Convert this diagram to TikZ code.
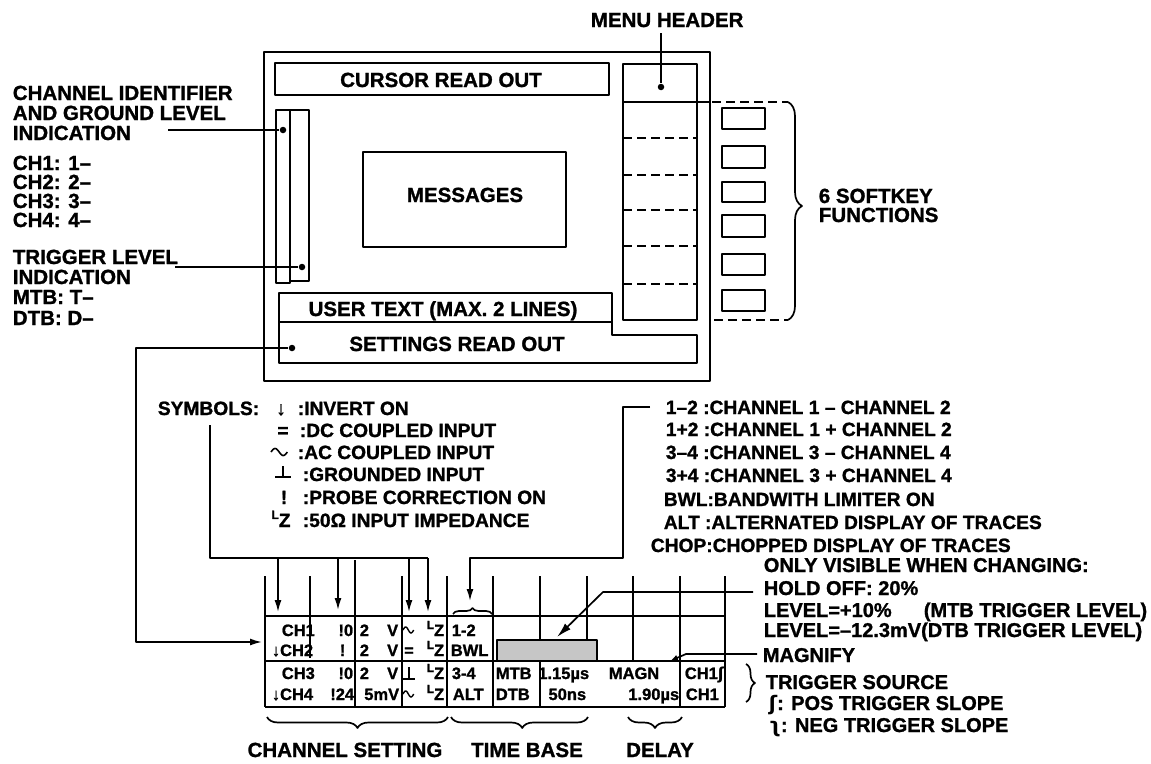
\documentclass[tikz,border=0pt]{standalone}
\usepackage{fontspec}
\setmainfont{Liberation Sans}[FakeBold=1.2]
\newfontfamily\djv{DejaVu Sans}
\usetikzlibrary{arrows.meta,decorations.pathreplacing}
\newcommand\lzsym{\raisebox{0.42em}{\fontsize{12}{12}\selectfont L}Z}
\begin{document}
\begin{tikzpicture}[x=1pt,y=-1pt,
  line width=1.7pt, line join=round,
  txt/.style={inner sep=0pt, anchor=base west, font=\fontsize{20.5}{20.5}\selectfont\bfseries},
  ann/.style={inner sep=0pt, anchor=base west, font=\fontsize{20}{20}\selectfont\bfseries},
  ctr/.style={inner sep=0pt, anchor=base, font=\fontsize{20.5}{20.5}\selectfont\bfseries},
  lg/.style={inner sep=0pt, anchor=base west, font=\fontsize{19.2}{19.2}\selectfont\bfseries},
  lgc/.style={lg, anchor=base},
  tb/.style={inner sep=0pt, anchor=base west, font=\fontsize{16.5}{16.5}\selectfont\bfseries},
  tbe/.style={tb, anchor=base east},
  tbc/.style={tb, anchor=base},
  arr/.style={-{Latex[length=12pt,width=7pt]}},
  blob/.style={circle, fill, inner sep=0pt, minimum size=6.5pt},
  dsh/.style={dash pattern=on 9pt off 5pt},
]
\fill[white] (0,0) rectangle (1151,763);
\useasboundingbox (0,0) rectangle (1151,763);

% ---------- left labels
\node[txt] (ci1) at (12,100) {CHANNEL IDENTIFIER};
\node[txt] (ci2) at (12,120) {AND GROUND LEVEL};
\node[txt] (ci3) at (12,140) {INDICATION};
\node[txt] (ch1) at (12,170) {CH1: 1–};
\node[txt] (ch2) at (12,189) {CH2: 2–};
\node[txt] (ch3) at (12,208) {CH3: 3–};
\node[txt] (ch4) at (12,227) {CH4: 4–};
\node[txt] (tl1) at (12,264) {TRIGGER LEVEL};
\node[txt] (tl2) at (12,284) {INDICATION};
\node[txt] (mtb) at (12,304) {MTB: T–};
\node[txt] (dtb) at (12,325) {DTB: D–};

% ---------- screen
\draw[line width=2.2pt] (264,52) rectangle (710,381);
\draw (275,63) rectangle (609,95);
\node[ctr] (cursor) at (441,87) {CURSOR READ OUT};
\draw (276,110) rectangle (290,283);
\draw (290,110) rectangle (309,281);
\node[blob] (cidot) at (283,130) {};
\node[blob] (tldot) at (302,267) {};
\coordinate (cistart) at (168,130);
\coordinate (tlstart) at (175,267);
\draw (cistart) -- (cidot);
\draw (tlstart) -- (tldot);

\draw (363,152) rectangle (566,247);
\node[ctr] (msg) at (465,202) {MESSAGES};

\draw (279,293) rectangle (612,322);
\node[ctr] (user) at (443,316) {USER TEXT (MAX. 2 LINES)};
\draw (279,322) -- (279,363) -- (697,363) -- (697,335) -- (612,335) -- (612,322);
\node[ctr] (settings) at (457,351) {SETTINGS READ OUT};
\node[blob] (sdot) at (292,348) {};

% ---------- menu column
\draw (623,64) rectangle (697,320);
\draw (623,102) -- (710,102);
\foreach \yy in {138,175,210,246,284} \draw[dsh] (623,\yy) -- (697,\yy);
\draw[dsh] (712,102) -- (788,102);
\draw[dsh] (714,320) -- (788,320);
\node[blob] (mhdot) at (661,87) {};
\node[txt] (mh) at (590,27) {MENU HEADER};
\coordinate (mhs) at (661,33);
\draw (mhs) -- (mhdot);

\foreach \ya/\yb in {108/129,146/168,182/202,215/237,254/275,290/311}
  \draw (722,\ya) rectangle (765,\yb);
\draw[decorate,decoration={brace,amplitude=14pt,aspect=0.477}] (788,102) -- (788,320);
\node[txt] (sk1) at (818,203) {6 SOFTKEY};
\node[txt] (sk2) at (818,222) {FUNCTIONS};

% ---------- symbols legend
\node[lg] (symlbl) at (157,415) {SYMBOLS:};
\node[lgc] (sy1) at (281,415) {↓};
\node[lgc] (sy2) at (283,437) {=};
\draw[line width=1.6pt, shift={(271,452)}] plot[domain=0:6.2832, samples=30] ({\x*2.6}, {-3.5*sin(\x r)});
\draw (283,466) -- (283,476);
\draw[line width=2.4pt] (275,477) -- (291,477);
\node[lgc] (sy5) at (284,504) {!};
\node[lgc] (sy6) at (281,527) {\lzsym};
\node[lg] (sd1) at (297,415) {:INVERT ON};
\node[lg] (sd2) at (299,437) {:DC COUPLED INPUT};
\node[lg] (sd3) at (297,459) {:AC COUPLED INPUT};
\node[lg] (sd4) at (302,481) {:GROUNDED INPUT};
\node[lg] (sd5) at (302,504) {:PROBE CORRECTION ON};
\node[lg] (sd6) at (302,527) {:50Ω INPUT IMPEDANCE};

\coordinate (symtop) at (210,425);
\coordinate (symc) at (210,558);
\coordinate (symr) at (428,558);
\draw (symtop) -- (symc) -- (symr);
\coordinate (a1) at (278,558); \coordinate (a1e) at (278,612);
\coordinate (a2) at (338,558); \coordinate (a2e) at (338,610);
\coordinate (a3) at (409,558); \coordinate (a3e) at (409,612);
\coordinate (a4) at (428,558); \coordinate (a4e) at (428,612);
\draw[arr] (a1) -- (a1e);
\draw[arr] (a2) -- (a2e);
\draw[arr] (a3) -- (a3e);
\draw[arr] (a4) -- (a4e);

% settings connector
\coordinate (sc1) at (136,348);
\coordinate (sc2) at (136,642);
\coordinate (sc3) at (262,642);
\draw[arr] (sdot) -- (sc1) -- (sc2) -- (sc3);

% ---------- math / mode legend
\node[lg] (l1) at (665,414) {1–2 :CHANNEL 1 – CHANNEL 2};
\node[lg] (l2) at (665,436) {1+2 :CHANNEL 1 + CHANNEL 2};
\node[lg] (l3) at (665,459) {3–4 :CHANNEL 3 – CHANNEL 4};
\node[lg] (l4) at (665,482) {3+4 :CHANNEL 3 + CHANNEL 4};
\node[lg] (l5) at (663,506) {BWL:BANDWITH LIMITER ON};
\node[lg] (l6) at (663,529) {ALT :ALTERNATED DISPLAY OF TRACES};
\node[lg] (l7) at (650,552) {CHOP:CHOPPED DISPLAY OF TRACES};
\coordinate (m0) at (650,407);
\coordinate (m1) at (623,407);
\coordinate (m2) at (623,558);
\coordinate (m3) at (470,558);
\coordinate (m4) at (470,601);
\draw[arr] (m0) -- (m1) -- (m2) -- (m3) -- (m4);
\draw[decorate,decoration={brace,amplitude=6pt}] (453,614) -- (492,614);

% ---------- right annotations
\node[ann] (only) at (763,572) {ONLY VISIBLE WHEN CHANGING:};
\node[ann] (hold) at (763,595) {HOLD OFF: 20\%};
\node[ann] (lev1) at (763,617) {LEVEL=+10\%};
\node[ann] (mtbl) at (923,617) {(MTB TRIGGER LEVEL)};
\node[ann] (lev2) at (763,637) {LEVEL=–12.3mV(DTB TRIGGER LEVEL)};
\node[ann] (magn) at (762,662) {MAGNIFY};
\node[ann] (trs) at (765,689) {TRIGGER SOURCE};
\node[ann] (pos) at (768,710) {{\djv ʃ}: POS TRIGGER SLOPE};
\node[ann] (neg) at (768,732) {{\djv ʅ}: NEG TRIGGER SLOPE};

\coordinate (ho1) at (753,592);
\coordinate (ho2) at (603,592);
\coordinate (ho3) at (557,637);
\draw[-{Latex[length=15pt,width=8pt]}] (ho1) -- (ho2) -- (ho3);
\coordinate (mg1) at (757,654);
\coordinate (mg2) at (686,654);
\coordinate (mg3) at (670,661);
\draw[-{Latex[length=8pt,width=6pt]}] (mg1) -- (mg2) -- (mg3);
\draw[decorate,decoration={brace,amplitude=9pt}] (746,664) -- (746,702);

% ---------- settings table
\draw (265,616) -- (725,616);
\draw (265,661) -- (725,661);
\draw (265,707) -- (725,707);
\draw (265,576) -- (265,707);
\draw (310,576) -- (310,658);
\draw (355,560) -- (355,707);
\draw (402,576) -- (402,707);
\draw (447,576) -- (447,707);
\draw (493,576) -- (493,707);
\draw (540,576) -- (540,640);
\draw (540,661) -- (540,707);
\draw (587,576) -- (587,640);
\draw (633,576) -- (633,661);
\draw (680,576) -- (680,707);
\draw (725,576) -- (725,707);
\draw[fill=gray!45] (497,640) rectangle (597,661);

\node[tb] (t11) at (281,636) {CH1};
\node[tb] (t21) at (271,656) {↓CH2};
\node[tb] (t31) at (281,679) {CH3};
\node[tb] (t41) at (271,700) {↓CH4};
\node[tbe] (t12) at (354,636) {!0};
\node[tb] (t22) at (339,656) {!};
\node[tbe] (t32) at (354,679) {!0};
\node[tbe] (t42) at (355,700) {!24};
\node[tb] (t13) at (359,636) {2};
\node[tbe] (t13v) at (399,636) {V};
\node[tb] (t23) at (359,656) {2};
\node[tbe] (t23v) at (399,656) {V};
\node[tb] (t33) at (359,679) {2};
\node[tbe] (t33v) at (399,679) {V};
\node[tbe] (t43) at (400,700) {5mV};
\draw[line width=1.4pt, shift={(403,630)}] plot[domain=0:6.2832, samples=30] ({\x*1.7}, {-3*sin(\x r)});
\node[tbc] (t24) at (409,656) {=};
\draw (409,667) -- (409,679);
\draw (403,679) -- (415,679);
\draw[line width=1.4pt, shift={(403,694)}] plot[domain=0:6.2832, samples=30] ({\x*1.7}, {-3*sin(\x r)});
\node[tbe] (t14) at (445,636) {\lzsym};
\node[tbe] (t24z) at (445,656) {\lzsym};
\node[tbe] (t34) at (445,679) {\lzsym};
\node[tbe] (t44) at (445,700) {\lzsym};
\node[tb] (t15) at (451,636) {1-2};
\node[tb] (t25) at (450,656) {BWL};
\node[tb] (t35) at (451,679) {3-4};
\node[tb] (t45) at (452,700) {ALT};
\node[tb] (t36) at (495,679) {MTB};
\node[tb] (t46) at (495,700) {DTB};
\node[tbe] (t37) at (590,679) {1.15µs};
\node[tbe] (t47) at (587,700) {50ns};
\node[tb] (t38) at (608,679) {MAGN};
\node[tbe] (t48) at (680,700) {1.90µs};
\node[tb] (t39) at (684,679) {CH1{\djv ʃ}};
\node[tb] (t49) at (685,700) {CH1};

% ---------- bottom braces
\draw[decorate,decoration={brace,mirror,amplitude=11pt}] (267,717) -- (448,717);
\draw[decorate,decoration={brace,mirror,amplitude=11pt,aspect=0.52}] (451,717) -- (588,717);
\draw[decorate,decoration={brace,mirror,amplitude=11pt}] (628,717) -- (682,717);
\node[ctr] (chs) at (345,757) {CHANNEL SETTING};
\node[ctr] (tbs) at (527,757) {TIME BASE};
\node[ctr] (dly) at (660,757) {DELAY};
\end{tikzpicture}
\end{document}
